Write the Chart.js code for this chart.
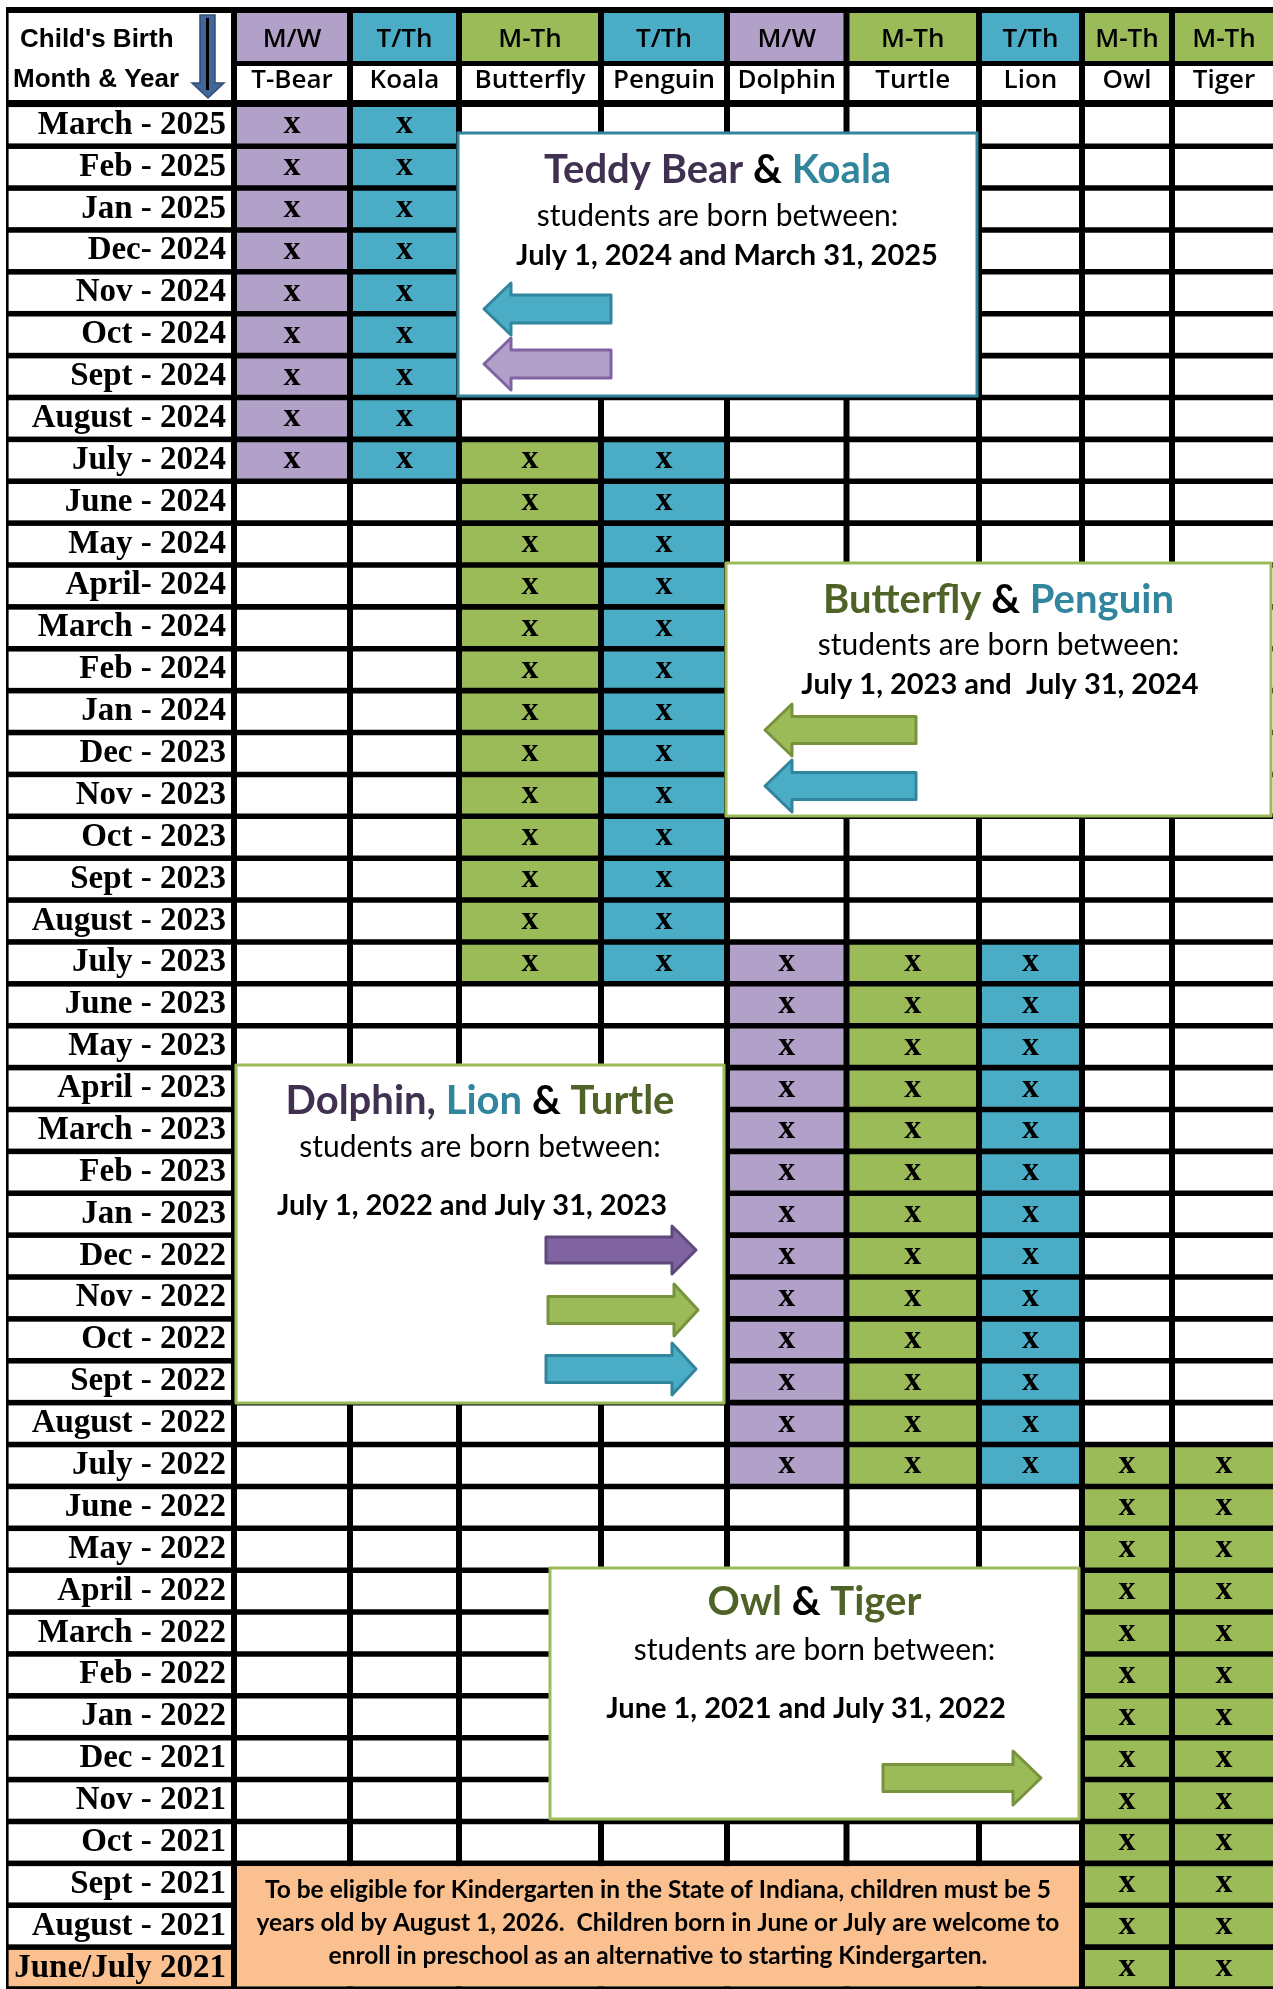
<!DOCTYPE html>
<html>
<head>
<meta charset="utf-8">
<script src="https://cdn.jsdelivr.net/npm/chart.js@4.4.1/dist/chart.umd.min.js"></script>
<style>
  html, body { margin: 0; padding: 0; background: #fff; overflow: hidden; }
  canvas { display: block; }
</style>
</head>
<body>
<canvas id="grade" width="1273" height="1989"></canvas>
<script>
// birth month rows, youngest first
const months = ['March - 2025', 'Feb - 2025', 'Jan - 2025', 'Dec- 2024', 'Nov - 2024', 'Oct - 2024',
  'Sept - 2024', 'August - 2024', 'July - 2024', 'June - 2024', 'May - 2024', 'April- 2024',
  'March - 2024', 'Feb - 2024', 'Jan - 2024', 'Dec - 2023', 'Nov - 2023', 'Oct - 2023',
  'Sept - 2023', 'August - 2023', 'July - 2023', 'June - 2023', 'May - 2023', 'April - 2023',
  'March - 2023', 'Feb - 2023', 'Jan - 2023', 'Dec - 2022', 'Nov - 2022', 'Oct - 2022',
  'Sept - 2022', 'August - 2022', 'July - 2022', 'June - 2022', 'May - 2022', 'April - 2022',
  'March - 2022', 'Feb - 2022', 'Jan - 2022', 'Dec - 2021', 'Nov - 2021', 'Oct - 2021',
  'Sept - 2021', 'August - 2021', 'June/July 2021'];

// classes and their days
const classes = ['T-Bear', 'Koala', 'Butterfly', 'Penguin', 'Dolphin', 'Turtle', 'Lion', 'Owl', 'Tiger'];
const days = ['M/W', 'T/Th', 'M-Th', 'T/Th', 'M/W', 'M-Th', 'T/Th', 'M-Th', 'M-Th'];

// eligible birth range for each class
const youngest = ['March - 2025', 'March - 2025', 'July - 2024', 'July - 2024', 'July - 2023',
  'July - 2023', 'July - 2023', 'July - 2022', 'July - 2022'];
const oldest = ['July - 2024', 'July - 2024', 'July - 2023', 'July - 2023', 'July - 2022',
  'July - 2022', 'July - 2022', 'June/July 2021', 'June/July 2021'];

// layout / style
const colWidths = [116, 109, 142, 126, 119.5, 132.5, 103, 90, 104];
const GAP = 3;
const dayColors = { 'M/W': '#B1A0C7', 'T/Th': '#4BACC6', 'M-Th': '#9BBB59' };
const PEACH = '#FAC090';
const CELL = 0.867;

const colStart = [];
let total = 0;
colWidths.forEach(w => { colStart.push(total); total += w; });

const inRange = classes.map((c, i) => {
  const a = months.indexOf(youngest[i]), b = months.indexOf(oldest[i]);
  return months.map((m, r) => r >= a && r <= b);
});

const datasets = classes.map((name, i) => ({
  label: name,
  data: months.map(() => [colStart[i] + GAP, colStart[i] + colWidths[i] - GAP]),
  backgroundColor: inRange[i].map(ok => ok ? dayColors[days[i]] : '#ffffff'),
  borderWidth: 0,
  grouped: false,
  categoryPercentage: 1,
  barPercentage: CELL
}));

function richLine(ctx, parts, cx, y, font) {
  ctx.font = font;
  const w = parts.reduce((s, p) => s + ctx.measureText(p[0]).width, 0);
  let x = cx - w / 2;
  ctx.textAlign = 'left';
  parts.forEach(p => { ctx.fillStyle = p[1]; ctx.fillText(p[0], x, y); x += ctx.measureText(p[0]).width; });
}

function arrow(ctx, tail, tip, yc, sh, hh, hl, fill, stroke) {
  const d = Math.sign(tip - tail), hb = tip - d * hl;
  ctx.beginPath();
  ctx.moveTo(tail, yc - sh); ctx.lineTo(hb, yc - sh); ctx.lineTo(hb, yc - hh);
  ctx.lineTo(tip, yc); ctx.lineTo(hb, yc + hh); ctx.lineTo(hb, yc + sh);
  ctx.lineTo(tail, yc + sh); ctx.closePath();
  ctx.fillStyle = fill; ctx.fill();
  ctx.lineJoin = 'round'; ctx.lineWidth = 3; ctx.strokeStyle = stroke; ctx.stroke();
}

const TEAL = '#4BACC6', TEAL_D = '#31859C', PURP = '#B1A0C7', PURP_M = '#8064A2', PURP_D = '#5F497A',
  GREEN = '#9BBB59', GREEN_D = '#77933C', TXT_PURP = '#403151', TXT_GREEN = '#4F6228';

const boxes = [
  { x0: 458, y0: 133, x1: 977, y1: 396, border: TEAL_D,
    title: [['Teddy Bear', TXT_PURP], [' & ', '#000'], ['Koala', TEAL_D]], ty: 183,
    sy: 226, dates: 'July 1, 2024 and March 31, 2025', dy: 265, dcx: 727,
    arrows: [[611, 484, 309, 14, 26, 27, TEAL, TEAL_D], [611, 484, 364, 14, 26, 27, PURP, PURP_M]] },
  { x0: 726, y0: 563, x1: 1271, y1: 816, border: GREEN,
    title: [['Butterfly', TXT_GREEN], [' & ', '#000'], ['Penguin', TEAL_D]], ty: 613,
    sy: 655, dates: 'July 1, 2023 and  July 31, 2024', dy: 694, dcx: 1000,
    arrows: [[916, 765, 730, 13.5, 26, 27, GREEN, GREEN_D], [916, 765, 786, 13.5, 26, 27, TEAL, TEAL_D]] },
  { x0: 236, y0: 1065, x1: 724, y1: 1403, border: GREEN,
    title: [['Dolphin, ', TXT_PURP], ['Lion', TEAL_D], [' & ', '#000'], ['Turtle', TXT_GREEN]], ty: 1114,
    sy: 1157, dates: 'July 1, 2022 and July 31, 2023', dy: 1215, dcx: 472,
    arrows: [[546, 696, 1250, 13, 24, 24, PURP_M, PURP_D], [548, 698, 1310, 13.5, 26, 24, GREEN, GREEN_D],
      [546, 696, 1369, 13.5, 26, 24, TEAL, TEAL_D]] },
  { x0: 550, y0: 1568, x1: 1079, y1: 1819, border: GREEN,
    title: [['Owl', TXT_GREEN], [' & ', '#000'], ['Tiger', TXT_GREEN]], ty: 1615,
    sy: 1660, dates: 'June 1, 2021 and July 31, 2022', dy: 1718, dcx: 806,
    arrows: [[883, 1041, 1778, 13.5, 27, 28, GREEN, GREEN_D]] }
];

const note = ['To be eligible for Kindergarten in the State of Indiana, children must be 5',
  'years old by August 1, 2026.  Children born in June or July are welcome to',
  'enroll in preschool as an alternative to starting Kindergarten.'];

const tableFrame = {
  id: 'tableFrame',
  beforeDraw(chart) {
    const { ctx, width, height, scales: { x, y } } = chart;
    ctx.save();
    ctx.fillStyle = '#fff';
    ctx.fillRect(0, 0, width, height);
    ctx.fillStyle = '#000';
    ctx.fillRect(6, 7, width - 6, height - 7);

    // label column
    ctx.fillStyle = '#fff';
    ctx.fillRect(8.6, 13, 231 - 8.6, 87);
    const pitch = y.getPixelForValue(1) - y.getPixelForValue(0);
    const h = pitch * CELL;
    months.forEach((m, r) => {
      const cy = y.getPixelForValue(r);
      ctx.fillStyle = r === months.length - 1 ? PEACH : '#fff';
      ctx.fillRect(8.6, cy - h / 2, 231 - 8.6, h);
    });

    ctx.fillStyle = '#000';
    ctx.font = 'bold 26px "Liberation Sans"';
    ctx.textAlign = 'left';
    ctx.textBaseline = 'alphabetic';
    ctx.fillText("Child's Birth", 20, 47);
    ctx.fillText('Month & Year', 13, 87);

    // down arrow
    ctx.fillStyle = '#41679A';
    ctx.strokeStyle = '#2F4E78';
    ctx.lineWidth = 1.5;
    ctx.beginPath();
    ctx.moveTo(200, 15); ctx.lineTo(215, 15); ctx.lineTo(215, 83); ctx.lineTo(224, 83);
    ctx.lineTo(208, 98); ctx.lineTo(192, 83); ctx.lineTo(200, 83); ctx.closePath();
    ctx.fill(); ctx.stroke();
    ctx.fillStyle = '#000';
    ctx.fillRect(206, 18, 3, 72);

    // class header cells
    classes.forEach((name, i) => {
      const x0 = x.getPixelForValue(colStart[i] + GAP);
      const x1 = x.getPixelForValue(colStart[i] + colWidths[i] - GAP);
      ctx.fillStyle = dayColors[days[i]];
      ctx.fillRect(x0, 13, x1 - x0, 48);
      ctx.fillStyle = '#fff';
      ctx.fillRect(x0, 66, x1 - x0, 34);
      ctx.fillStyle = '#000';
      ctx.textAlign = 'center';
      ctx.font = '600 26px "Open Sans"';
      ctx.fillText(days[i], (x0 + x1) / 2, 47);
      ctx.fillText(name, (x0 + x1) / 2, 88);
    });
    ctx.restore();
  },
  afterDatasetsDraw(chart) {
    const { ctx, scales: { x, y } } = chart;
    ctx.save();
    // x marks
    ctx.fillStyle = '#000';
    ctx.font = 'bold 34px "Liberation Serif"';
    ctx.textAlign = 'center';
    ctx.textBaseline = 'alphabetic';
    classes.forEach((c, i) => {
      chart.getDatasetMeta(i).data.forEach((el, r) => {
        if (!inRange[i][r]) return;
        const p = el.getCenterPoint();
        ctx.fillText('x', p.x, p.y + 8);
      });
    });

    // callout boxes
    boxes.forEach(b => {
      ctx.fillStyle = '#fff';
      ctx.fillRect(b.x0, b.y0, b.x1 - b.x0, b.y1 - b.y0);
      ctx.strokeStyle = b.border;
      ctx.lineWidth = 3;
      ctx.strokeRect(b.x0, b.y0, b.x1 - b.x0, b.y1 - b.y0);
      const cx = (b.x0 + b.x1) / 2;
      richLine(ctx, b.title, cx, b.ty, 'bold 40px Lato');
      ctx.fillStyle = '#000';
      ctx.textAlign = 'center';
      ctx.font = '30px Lato';
      ctx.fillText('students are born between:', cx, b.sy);
      ctx.font = 'bold 29px Lato';
      ctx.fillText(b.dates, b.dcx, b.dy);
      b.arrows.forEach(a => arrow(ctx, ...a));
    });

    // kindergarten note
    const pitch = y.getPixelForValue(1) - y.getPixelForValue(0);
    const h = pitch * CELL;
    const nx0 = x.getPixelForValue(colStart[0] + GAP);
    const nx1 = x.getPixelForValue(colStart[6] + colWidths[6] - GAP);
    const ny0 = y.getPixelForValue(months.length - 3) - h / 2;
    const ny1 = y.getPixelForValue(months.length - 1) + h / 2;
    ctx.fillStyle = PEACH;
    ctx.fillRect(nx0, ny0, nx1 - nx0, ny1 - ny0);
    ctx.fillStyle = '#000';
    ctx.font = 'bold 24.5px Lato';
    ctx.textAlign = 'center';
    note.forEach((line, k) => ctx.fillText(line, (nx0 + nx1) / 2, ny0 + 32 + k * 33));
    ctx.restore();
  }
};

new Chart(document.getElementById('grade'), {
  type: 'bar',
  data: { labels: months, datasets },
  options: {
    indexAxis: 'y',
    responsive: false,
    maintainAspectRatio: false,
    animation: false,
    devicePixelRatio: 1,
    events: [],
    layout: { padding: { top: 104.3, left: 0, right: 0, bottom: 0 } },
    scales: {
      x: { type: 'linear', min: 0, max: total - GAP, display: false },
      y: {
        type: 'category',
        offset: true,
        grid: { display: false, drawTicks: false },
        border: { display: false },
        ticks: {
          autoSkip: false,
          color: '#000',
          padding: 8,
          font: { family: 'Liberation Serif', weight: 'bold', size: 33 }
        },
        afterFit(scale) {
          scale.width = 234;
          scale.paddingTop = 0;
          scale.paddingBottom = 0;
        }
      }
    },
    plugins: { legend: { display: false }, tooltip: { enabled: false } }
  },
  plugins: [tableFrame]
});
</script>
</body>
</html>
